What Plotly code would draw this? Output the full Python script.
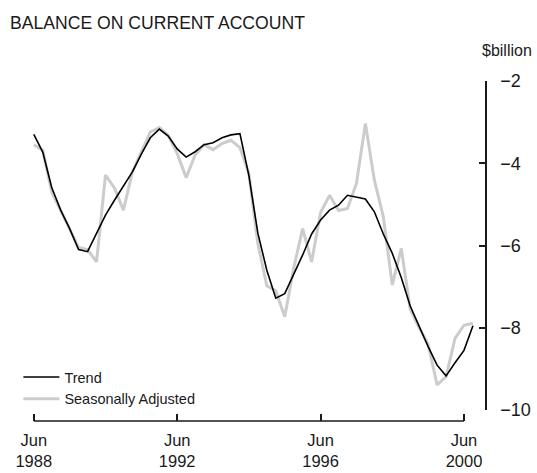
import plotly.graph_objects as go

# Quarterly data, Jun 1988 .. Sep 2000 (index 0 = Jun 1988)
trend = [-3.30, -3.73, -4.59, -5.14, -5.59, -6.10, -6.15, -5.71, -5.26, -4.90,
         -4.55, -4.21, -3.78, -3.38, -3.17, -3.34, -3.65, -3.85, -3.72, -3.55,
         -3.50, -3.38, -3.31, -3.28, -4.30, -5.70, -6.60, -7.28, -7.17, -6.72,
         -6.23, -5.72, -5.38, -5.14, -5.02, -4.78, -4.83, -4.87, -5.18, -5.72,
         -6.19, -6.78, -7.47, -7.98, -8.46, -8.91, -9.17, -8.85, -8.55, -7.95]
seas_adj = [-3.55, -3.68, -4.70, -5.15, -5.62, -6.05, -6.10, -6.40, -4.29, -4.60,
            -5.14, -4.21, -3.72, -3.24, -3.13, -3.32, -3.76, -4.35, -3.80, -3.55,
            -3.67, -3.52, -3.44, -3.62, -4.25, -5.95, -6.98, -7.10, -7.73, -6.55,
            -5.59, -6.40, -5.20, -4.78, -5.15, -5.10, -4.49, -3.03, -4.41, -5.30,
            -6.96, -6.07, -7.55, -8.00, -8.40, -9.39, -9.19, -8.26, -7.94, -7.89]
quarters = list(range(len(trend)))
x_tick_vals = [0, 16, 32, 48]
x_tick_text = ["Jun<br>1988", "Jun<br>1992", "Jun<br>1996", "Jun<br>2000"]
y_tick_vals = [-10, -8, -6, -4, -2]
y_tick_text = ["\u221210", "\u22128", "\u22126", "\u22124", "\u22122"]

FONT = "Liberation Sans, Arial, sans-serif"
INK = "#1a1a1a"

fig = go.Figure()
fig.add_trace(go.Scatter(x=quarters, y=seas_adj, mode="lines", name="Seasonally Adjusted",
                         line=dict(color="#cccccc", width=3)))
fig.add_trace(go.Scatter(x=quarters, y=trend, mode="lines", name="Trend",
                         line=dict(color="#000000", width=1.6)))

fig.update_layout(
    width=537, height=473,
    margin=dict(l=32, r=51, t=81, b=52, autoexpand=False),
    paper_bgcolor="white", plot_bgcolor="white",
    font=dict(family=FONT, color=INK, size=17),
    title=dict(text="BALANCE ON CURRENT ACCOUNT", x=10/537, xanchor="left",
               y=1 - 23/473, yanchor="middle", xref="container", yref="container",
               font=dict(family=FONT, size=17.6, color=INK)),
    showlegend=True,
    legend=dict(x=-0.03, y=(421 - 361) / 340, xanchor="left", yanchor="top",
                traceorder="reversed", bgcolor="rgba(0,0,0,0)",
                font=dict(family=FONT, size=14.5, color=INK),
                itemwidth=36, tracegroupgap=0),
    xaxis=dict(range=[-0.2, 49.2], domain=[0, 0.9752], showgrid=False, zeroline=False,
               showline=False, ticks="inside", ticklen=7, tickwidth=1.5, tickcolor=INK,
               tickvals=x_tick_vals, ticktext=x_tick_text, anchor="free", position=0,
               ticklabelstandoff=7,
               tickfont=dict(family=FONT, size=16.5, color=INK), automargin=False),
    yaxis=dict(range=[-10, -2], domain=[11/340, 1], side="right", anchor="free", position=1,
               showgrid=False, zeroline=False, showline=True, linecolor=INK, linewidth=1.5,
               ticks="inside", ticklen=6, tickwidth=1.5, tickcolor=INK,
               tickvals=y_tick_vals, ticktext=y_tick_text, ticklabelstandoff=10,
               tickfont=dict(family=FONT, size=18, color=INK), automargin=False),
    shapes=[dict(type="line", xref="x", yref="paper", x0=0, x1=48, y0=0, y1=0,
                 line=dict(color=INK, width=1.5))],
    annotations=[dict(text="$billion", xref="paper", yref="paper",
                      x=(534 - 32) / 454, y=(421 - 50) / 340, xanchor="right", yanchor="middle",
                      showarrow=False, font=dict(family=FONT, size=16, color=INK))],
)

fig.write_html("out.html", config={"displayModeBar": False},
               post_script="document.body.style.margin='0px';")
